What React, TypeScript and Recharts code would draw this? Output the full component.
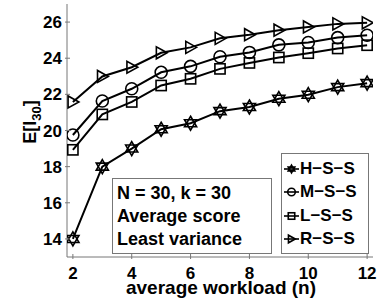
import React from 'react';
import { LineChart, Line, XAxis, YAxis } from 'recharts';

const workload = [2, 3, 4, 5, 6, 7, 8, 9, 10, 11, 12];
const hss = [14.0, 18.0, 19.0, 20.07, 20.4, 21.07, 21.3, 21.76, 21.98, 22.4, 22.62];
const mss = [19.75, 21.63, 22.31, 23.22, 23.55, 24.08, 24.32, 24.74, 24.87, 25.14, 25.27];
const lss = [18.93, 20.89, 21.58, 22.49, 22.86, 23.41, 23.74, 24.04, 24.28, 24.54, 24.72];
const rss = [21.58, 22.99, 23.5, 24.3, 24.6, 25.1, 25.3, 25.55, 25.73, 25.9, 25.96];
const xTicks = [2, 4, 6, 8, 10, 12];
const yTicks = [14, 16, 18, 20, 22, 24, 26];
const seriesNames = ['H\u2212S\u2212S', 'M\u2212S\u2212S', 'L\u2212S\u2212S', 'R\u2212S\u2212S'];
const infoLines = ['N = 30, k = 30', 'Average score', 'Least variance'];

const data = workload.map((n, i) => ({ n, hss: hss[i], mss: mss[i], lss: lss[i], rss: rss[i] }));

const font = '"Liberation Sans", Arial, sans-serif';
const axisColor = '#777';

type Kind = 'hex' | 'circle' | 'square' | 'tri';
const kinds: Kind[] = ['hex', 'circle', 'square', 'tri'];

const Marker = ({ cx, cy, kind, r }: { cx: number; cy: number; kind: Kind; r: number }) => {
  const s = { fill: 'none', stroke: '#000', strokeWidth: 1.6 };
  if (kind === 'circle') return <circle cx={cx} cy={cy} r={r} {...s} />;
  if (kind === 'square') return <rect x={cx - r * 0.85} y={cy - r * 0.85} width={r * 1.7} height={r * 1.7} {...s} />;
  if (kind === 'tri') {
    const p = `${cx + r},${cy} ${cx - r * 0.8},${cy - r} ${cx - r * 0.8},${cy + r}`;
    return <polygon points={p} {...s} />;
  }
  const tri = (a0: number) =>
    [0, 1, 2]
      .map((k) => {
        const a = ((a0 + k * 120) * Math.PI) / 180;
        return `${cx + r * Math.cos(a)},${cy + r * Math.sin(a)}`;
      })
      .join(' ');
  return (
    <g>
      <polygon points={tri(-90)} {...s} />
      <polygon points={tri(90)} {...s} />
    </g>
  );
};

const dotFor = (kind: Kind) => (props: any) => (
  <Marker key={`${kind}-${props.index}`} cx={props.cx} cy={props.cy} kind={kind} r={kind === 'hex' ? 7 : 6} />
);

const BottomTick = (props: any) => (
  <g>
    <line x1={props.x} y1={props.y} x2={props.x} y2={props.y - 5} stroke={axisColor} />
    <text x={props.x} y={props.y + 20} textAnchor="middle" fontFamily={font} fontWeight="bold" fontSize={17} fill="#000">
      {props.payload.value}
    </text>
  </g>
);
const TopTick = (props: any) => (
  <line x1={props.x} y1={props.y} x2={props.x} y2={props.y + 5} stroke={axisColor} />
);
const LeftTick = (props: any) => (
  <g>
    <line x1={props.x} y1={props.y} x2={props.x + 5} y2={props.y} stroke={axisColor} />
    <text x={props.x - 3} y={props.y + 6} textAnchor="end" fontFamily={font} fontWeight="bold" fontSize={17} fill="#000">
      {props.payload.value}
    </text>
  </g>
);
const RightTick = (props: any) => (
  <line x1={props.x} y1={props.y} x2={props.x - 5} y2={props.y} stroke={axisColor} />
);

const LegendBox = () => (
  <div
    style={{
      position: 'absolute',
      left: 281,
      top: 153,
      width: 88,
      height: 101,
      boxSizing: 'border-box',
      border: `1px solid ${axisColor}`,
      background: '#fff',
      padding: '3px 0 0 0',
      fontFamily: font,
      fontWeight: 'bold',
      fontSize: 17,
    }}
  >
    {seriesNames.map((name, i) => (
      <div key={name} style={{ display: 'flex', alignItems: 'center', height: 23.5 }}>
        <svg width={17} height={14} style={{ marginLeft: 1 }}>
          <line x1={1} y1={7} x2={16} y2={7} stroke="#000" strokeWidth={1.6} />
          <Marker cx={8.5} cy={7} kind={kinds[i]} r={3.8} />
        </svg>
        <span>{name}</span>
      </div>
    ))}
  </div>
);

export default function App() {
  return (
    <div style={{ position: 'absolute', left: 0, top: 0, width: 378, height: 300, background: '#fff' }}>
      <LineChart width={378} height={300} data={data} margin={{ top: 4, right: 5, left: 0, bottom: 0 }}>
        <XAxis
          xAxisId="b"
          dataKey="n"
          type="number"
          domain={[1.8, 12.2]}
          ticks={xTicks}
          interval={0}
          height={43}
          tickSize={0}
          tickLine={false}
          tick={<BottomTick />}
          axisLine={{ stroke: axisColor }}
          allowDataOverflow
        />
        <XAxis
          xAxisId="t"
          orientation="top"
          dataKey="n"
          type="number"
          domain={[1.8, 12.2]}
          ticks={xTicks}
          interval={0}
          height={0}
          tickSize={0}
          tickLine={false}
          tick={<TopTick />}
          axisLine={{ stroke: axisColor }}
          allowDataOverflow
        />
        <YAxis
          yAxisId="l"
          type="number"
          domain={[13, 27]}
          ticks={yTicks}
          interval={0}
          width={67}
          tickSize={0}
          tickLine={false}
          tick={<LeftTick />}
          axisLine={{ stroke: axisColor }}
          allowDataOverflow
        />
        <YAxis
          yAxisId="r"
          orientation="right"
          type="number"
          domain={[13, 27]}
          ticks={yTicks}
          interval={0}
          width={0}
          tickSize={0}
          tickLine={false}
          tick={<RightTick />}
          axisLine={{ stroke: axisColor }}
          allowDataOverflow
        />
        <Line xAxisId="b" yAxisId="l" dataKey="hss" name={seriesNames[0]} stroke="#000" strokeWidth={2} dot={dotFor('hex')} isAnimationActive={false} />
        <Line xAxisId="b" yAxisId="l" dataKey="mss" name={seriesNames[1]} stroke="#000" strokeWidth={2} dot={dotFor('circle')} isAnimationActive={false} />
        <Line xAxisId="b" yAxisId="l" dataKey="lss" name={seriesNames[2]} stroke="#000" strokeWidth={2} dot={dotFor('square')} isAnimationActive={false} />
        <Line xAxisId="b" yAxisId="l" dataKey="rss" name={seriesNames[3]} stroke="#000" strokeWidth={2} dot={dotFor('tri')} isAnimationActive={false} />
        <text
          transform="translate(36,122) rotate(-90)"
          textAnchor="middle"
          fontFamily={font}
          fontWeight="bold"
          fontSize={18}
          fill="#000"
        >
          E[I<tspan dy={5} fontSize={13}>30</tspan>
          <tspan dy={-5}>]</tspan>
        </text>
        <text x={221} y={294} textAnchor="middle" fontFamily={font} fontWeight="bold" fontSize={19} fill="#000">
          average workload (n)
        </text>
      </LineChart>
      <div
        style={{
          position: 'absolute',
          left: 112,
          top: 178,
          width: 160,
          height: 76,
          border: `1px solid ${axisColor}`,
          background: '#fff',
          fontFamily: font,
          fontWeight: 'bold',
          fontSize: 18,
          lineHeight: '23px',
          padding: '3px 0 0 4px',
          boxSizing: 'border-box',
        }}
      >
        {infoLines.map((t) => (
          <div key={t}>{t}</div>
        ))}
      </div>
      <LegendBox />
    </div>
  );
}
